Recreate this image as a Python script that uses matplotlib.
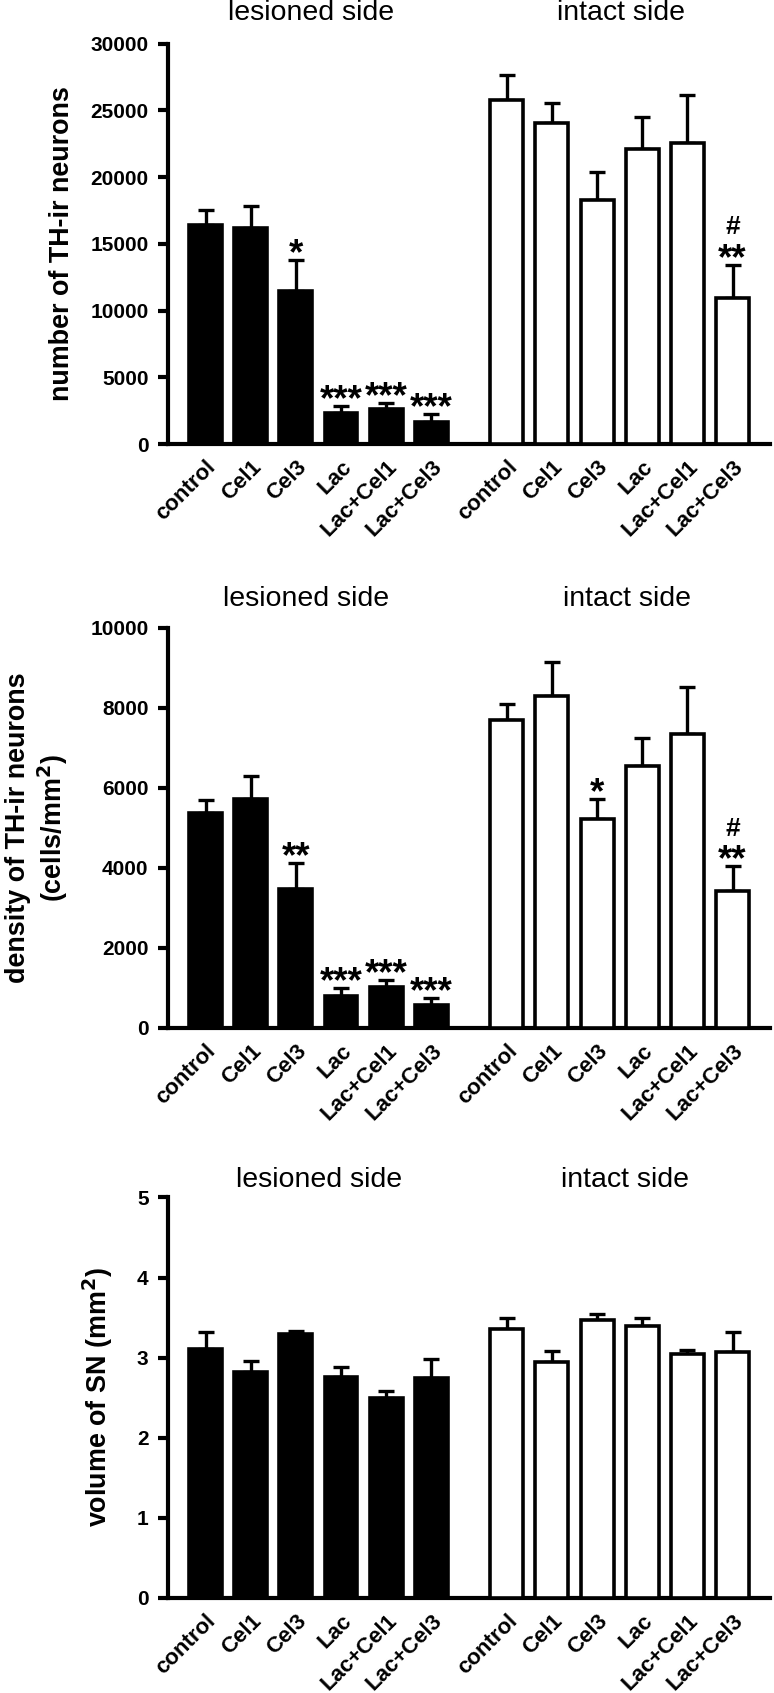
import matplotlib.pyplot as plt
import numpy as np

plt.rcParams['font.family'] = ['Liberation Sans', 'DejaVu Sans']

groups = ['control', 'Cel1', 'Cel3', 'Lac', 'Lac+Cel1', 'Lac+Cel3']

# number of TH-ir neurons
num_les = [16400, 16150, 11500, 2330, 2630, 1690]
num_les_err = [1100, 1650, 2300, 540, 450, 590]
num_int = [25800, 24040, 18300, 22080, 22560, 10910]
num_int_err = [1850, 1500, 2040, 2410, 3620, 2510]
num_les_sig = ['', '', '*', '***', '***', '***']
num_int_sig = ['', '', '', '', '', '**']
num_int_hash = ['', '', '', '', '', '#']

# density of TH-ir neurons
den_les = [5360, 5730, 3470, 790, 1010, 570]
den_les_err = [340, 560, 650, 210, 180, 170]
den_int = [7690, 8300, 5210, 6550, 7360, 3410]
den_int_err = [400, 850, 510, 700, 1170, 630]
den_les_sig = ['', '', '**', '***', '***', '***']
den_int_sig = ['', '', '*', '', '', '**']
den_int_hash = ['', '', '', '', '', '#']

# volume of SN
vol_les = [3.11, 2.82, 3.29, 2.76, 2.50, 2.75]
vol_les_err = [0.21, 0.14, 0.04, 0.12, 0.08, 0.23]
vol_int = [3.36, 2.95, 3.47, 3.39, 3.05, 3.07]
vol_int_err = [0.13, 0.13, 0.07, 0.11, 0.04, 0.25]

x_les = np.arange(6)
x_int = np.arange(6) + 6.67
bw = 0.73

fig = plt.figure(figsize=(7.74, 16.93), dpi=100)

panels = [
    dict(rect=[0.2171, 0.7377, 0.7778, 0.2366], les=num_les, les_err=num_les_err,
         intact=num_int, int_err=num_int_err, les_sig=num_les_sig, int_sig=num_int_sig,
         int_hash=num_int_hash, ylim=30000, step=5000,
         ylabel='number of TH-ir neurons', labx=-0.155, ty=1.075, tx=(2.33, 9.2)),
    dict(rect=[0.2171, 0.3929, 0.7778, 0.2362], les=den_les, les_err=den_les_err,
         intact=den_int, int_err=den_int_err, les_sig=den_les_sig, int_sig=den_int_sig,
         int_hash=den_int_hash, ylim=10000, step=2000,
         ylabel='density of TH-ir neurons\n(cells/mm$^\\mathbf{2}$)', labx=-0.163,
         ty=1.0715, tx=(2.22, 9.34)),
    dict(rect=[0.2171, 0.0563, 0.7778, 0.2364], les=vol_les, les_err=vol_les_err,
         intact=vol_int, int_err=vol_int_err, les_sig=None, int_sig=None, int_hash=None,
         ylim=5, step=1, ylabel='volume of SN (mm$^\\mathbf{2}$)', labx=-0.088,
         ty=1.043, tx=(2.51, 9.28)),
]


def stars(ax, xs, vals, errs, marks, dy, size):
    for xi, v, e, s in zip(xs, vals, errs, marks):
        if s:
            ax.annotate(s, (xi, v + e), xytext=(0, dy), textcoords='offset points',
                        ha='center', va='baseline', fontsize=size, fontweight='bold')


for p in panels:
    ax = fig.add_axes(p['rect'])
    ax.bar(x_les, p['les'], width=bw, color='black', edgecolor='black', linewidth=2.6, zorder=3)
    ax.bar(x_int, p['intact'], width=bw, color='white', edgecolor='black', linewidth=2.6, zorder=3)
    ax.errorbar(x_les, p['les'], yerr=[np.zeros(6), p['les_err']], fmt='none', ecolor='black',
                elinewidth=2.4, capsize=6, capthick=2.4, zorder=2)
    ax.errorbar(x_int, p['intact'], yerr=[np.zeros(6), p['int_err']], fmt='none', ecolor='black',
                elinewidth=2.4, capsize=6, capthick=2.4, zorder=2)

    if p['les_sig']:
        stars(ax, x_les, p['les'], p['les_err'], p['les_sig'], -3, 26.5)
    if p['int_sig']:
        stars(ax, x_int, p['intact'], p['int_err'], p['int_sig'], -3, 26.5)
    if p['int_hash']:
        stars(ax, x_int, p['intact'], p['int_err'], p['int_hash'], 22, 19)

    ax.set_xlim(-0.83, 12.5)
    ax.set_ylim(0, p['ylim'])
    ax.set_yticks(np.arange(0, p['ylim'] + p['step'] / 2, p['step']))
    ax.set_xticks(np.concatenate([x_les, x_int]))
    ax.set_xticklabels(groups + groups, rotation=45, ha='right', rotation_mode='anchor',
                       fontsize=16, fontweight='bold')
    for lab in ax.get_yticklabels():
        lab.set_fontweight('bold')
        lab.set_fontsize(15)
    ax.tick_params(axis='x', length=0, pad=9)
    ax.tick_params(axis='y', length=7, width=3, pad=7)
    ax.spines['top'].set_visible(False)
    ax.spines['right'].set_visible(False)
    ax.spines['left'].set_linewidth(3)
    ax.spines['bottom'].set_linewidth(3)
    ax.set_ylabel(p['ylabel'], fontsize=19.4, fontweight='bold', linespacing=1.15)
    ax.yaxis.set_label_coords(p['labx'], 0.5)

    ax.text(p['tx'][0], p['ty'], 'lesioned side', transform=ax.get_xaxis_transform(),
            ha='center', va='center', fontsize=20.5)
    ax.text(p['tx'][1], p['ty'], 'intact side', transform=ax.get_xaxis_transform(),
            ha='center', va='center', fontsize=20.5)

fig.savefig('out.png', dpi=100)
